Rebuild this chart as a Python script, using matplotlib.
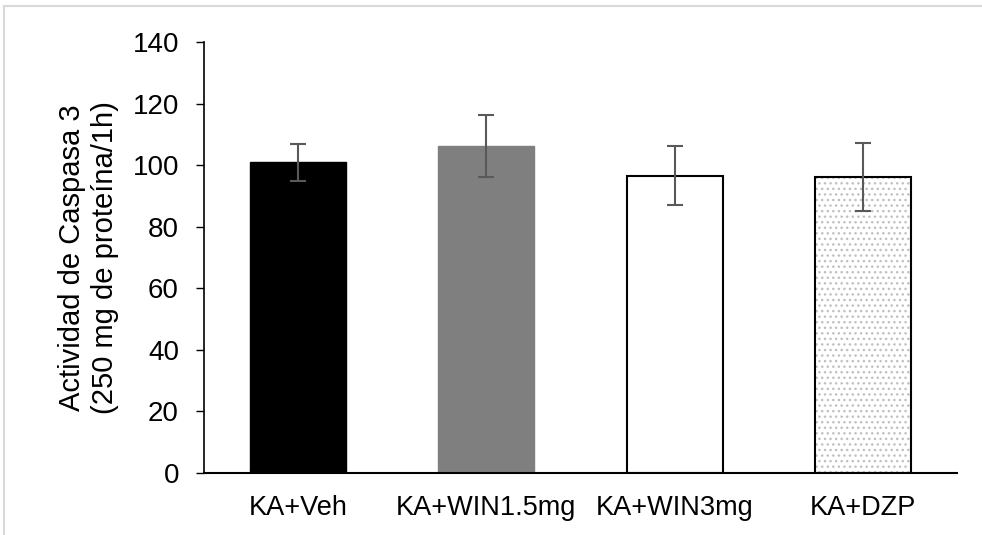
import matplotlib.pyplot as plt
from matplotlib.lines import Line2D

plt.rcParams['font.family'] = ['Liberation Sans', 'DejaVu Sans']

groups = ['KA+Veh', 'KA+WIN1.5mg', 'KA+WIN3mg', 'KA+DZP']
means = [101, 106.3, 96.6, 96.2]
errs = [6, 10, 9.5, 11]

fig = plt.figure(figsize=(9.82, 5.35), dpi=100)
ax = fig.add_axes([0.2077, 0.1159, 0.9745 - 0.2077, 0.9215 - 0.1159])

x = range(len(groups))
w = 0.51
# solid bars
ax.bar(0, means[0], w, color='black', edgecolor='black', linewidth=1)
ax.bar(1, means[1], w, color='#7f7f7f', edgecolor='#7f7f7f', linewidth=1)
ax.bar(2, means[2], w, color='white', edgecolor='black', linewidth=1.5)
# dotted bar: light hatch then black outline
ax.bar(3, means[3], w, color='white', edgecolor='#c0c0c0', hatch='...', linewidth=0)
ax.bar(3, means[3], w, fill=False, edgecolor='black', linewidth=1.5)

ax.errorbar(list(x), means, yerr=errs, fmt='none', ecolor='#595959',
            elinewidth=1.5, capsize=6, capthick=1.5)

ax.set_xlim(-0.5, 3.5)
ax.set_ylim(0, 140)
ax.set_yticks(range(0, 141, 20))
ax.set_xticks(list(x))
ax.set_xticklabels(groups, fontsize=19.5)
ax.tick_params(axis='x', length=0, pad=16)
ax.tick_params(axis='y', labelsize=20, length=6, width=1, direction='out', pad=12)
ax.set_ylabel('Actividad de Caspasa 3\n(250 mg de proteína/1h)', fontsize=21, labelpad=10)

for s in ['top', 'right']:
    ax.spines[s].set_visible(False)
ax.spines['left'].set_linewidth(1.2)
ax.spines['bottom'].set_linewidth(1.5)

# light frame around the picture
fig.add_artist(Line2D([4 / 982, 1], [1 - 6 / 535, 1 - 6 / 535], color='#d9d9d9', lw=1.5))
fig.add_artist(Line2D([4 / 982, 4 / 982], [0, 1 - 6 / 535], color='#d9d9d9', lw=1.5))

fig.savefig('out.png', dpi=100)
